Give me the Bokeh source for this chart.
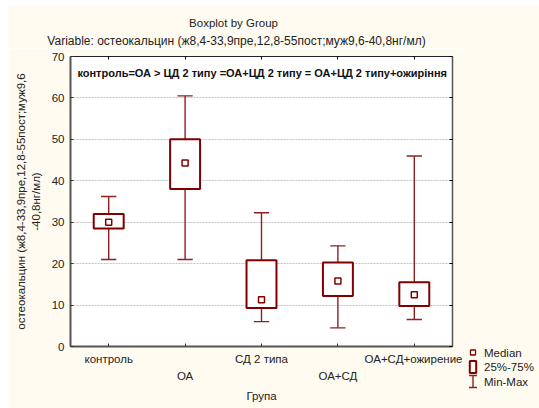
from bokeh.plotting import figure
from bokeh.layouts import column, row
from bokeh.models import Range1d, FixedTicker, LinearAxis, Label, ColumnDataSource
from bokeh.core.properties import value
from bokeh.embed import file_html
from bokeh.resources import INLINE

groups = ["контроль", "ОА", "СД 2 типа", "ОА+СД", "ОА+СД+ожирение"]
medians = [30.0, 44.3, 11.3, 15.8, 12.5]
q1 = [28.5, 38.0, 9.3, 12.2, 9.8]
q3 = [32.0, 50.0, 20.8, 20.3, 15.5]
mins = [21.0, 21.0, 6.0, 4.5, 6.5]
maxs = [36.2, 60.5, 32.3, 24.3, 46.0]
y_ticks = [0, 10, 20, 30, 40, 50, 60, 70]
legend_labels = ["Median", "25%-75%", "Min-Max"]
title_text = "Boxplot by Group"
subtitle_text = "Variable: остеокальцин (ж8,4-33,9пре,12,8-55пост;муж9,6-40,8нг/мл)"
note_text = "контроль=ОА > ЦД 2 типу =ОА+ЦД 2 типу = ОА+ЦД 2 типу+ожиріння"
y_label = "остеокальцин (ж8,4-33,9пре,12,8-55пост;муж9,6\n-40,8нг/мл)"
x_label = "Група"

FONT = "Liberation Sans"
RED = "#800000"
WHISK = "#8f2020"
BG = "#FFFBF0"
TXT = "#222222"

# ---------- title strip ----------
TW, TH = 531, 43
tf = figure(width=TW, height=TH, output_backend="svg", toolbar_location=None,
            x_range=Range1d(0, TW), y_range=Range1d(TH, 0),
            x_axis_type=None, y_axis_type=None, min_border=0, title=None)
tf.frame_align = False
tf.border_fill_color = BG
tf.background_fill_color = BG
tf.outline_line_color = None
tf.grid.grid_line_color = None
tf.text(x=[225], y=[17], text=[title_text], text_font=value(FONT), text_font_size="11.5px",
        text_color=TXT, text_align="center", text_baseline="middle")
tf.text(x=[228], y=[35], text=[subtitle_text], text_font=value(FONT), text_font_size="12px",
        text_color=TXT, text_align="center", text_baseline="middle")

# ---------- main plot ----------
xs = list(range(len(groups)))
p = figure(width=454, height=360, output_backend="svg", toolbar_location=None,
           x_range=Range1d(-0.5, 4.5), y_range=Range1d(0, 70),
           min_border_left=62, min_border_right=10, min_border_top=8, min_border_bottom=62,
           title=None)
p.frame_align = False
p.border_fill_color = BG
p.background_fill_color = "white"
p.outline_line_color = None

p.xaxis.ticker = FixedTicker(ticks=xs)
p.xaxis.major_label_overrides = {i: (g if i % 2 == 0 else "\n" + g) for i, g in enumerate(groups)}
p.xaxis.major_label_text_line_height = 1.45
p.xaxis.axis_label = x_label
p.yaxis.ticker = FixedTicker(ticks=y_ticks)
p.yaxis.axis_label = y_label
for ax in (p.xaxis[0], p.yaxis[0]):
    ax.axis_line_color = "#555555"
    ax.axis_line_width = 2
    ax.major_tick_in = 3
    ax.major_tick_out = 0
    ax.minor_tick_line_color = None
    ax.major_tick_line_color = "#333333"
    ax.major_label_text_font = FONT
    ax.major_label_text_font_size = "11.5px"
    ax.major_label_text_color = TXT
    ax.axis_label_text_font = FONT
    ax.axis_label_text_font_size = "11.5px"
    ax.axis_label_text_font_style = "normal"
    ax.axis_label_text_color = TXT
p.xaxis.major_label_standoff = 6
p.xaxis.axis_label_standoff = 5
p.yaxis.major_label_standoff = 6
p.yaxis.axis_label_standoff = 7

right = LinearAxis(ticker=FixedTicker(ticks=y_ticks),
                   major_label_overrides={t: "" for t in y_ticks},
                   major_label_standoff=0, major_tick_in=3, major_tick_out=0,
                   minor_tick_line_color=None, axis_line_color="#555555", axis_line_width=1.5)
p.add_layout(right, "right")
top = LinearAxis(ticker=FixedTicker(ticks=xs), major_label_overrides={t: "" for t in xs},
                 major_label_standoff=0, major_tick_in=3, major_tick_out=0,
                 minor_tick_line_color=None, axis_line_color="#222222", axis_line_width=1)
p.add_layout(top, "above")

p.xgrid.grid_line_color = None
p.ygrid.ticker = FixedTicker(ticks=y_ticks)
p.ygrid.grid_line_color = "#c4c4c4"
p.ygrid.grid_line_dash = "2 1"

src = ColumnDataSource(dict(x=xs, med=medians, q1=q1, q3=q3, lo=mins, hi=maxs,
                            left=[x - 0.196 for x in xs], right=[x + 0.196 for x in xs],
                            cl=[x - 0.1 for x in xs], cr=[x + 0.1 for x in xs]))
for y0, y1 in (("q3", "hi"), ("q1", "lo")):
    p.segment(x0="x", y0=y0, x1="x", y1=y1, source=src, line_color=WHISK, line_width=1.4)
for yy in ("hi", "lo"):
    p.segment(x0="cl", y0=yy, x1="cr", y1=yy, source=src, line_color=WHISK, line_width=1.4)
p.quad(left="left", right="right", bottom="q1", top="q3", source=src,
       fill_color="white", line_color=RED, line_width=2)
p.scatter(x="x", y="med", source=src, marker="square", size=6, fill_color="white",
          line_color=RED, line_width=1.5)
p.add_layout(Label(x=-0.41, y=66.1, text=note_text, text_font=FONT, text_font_size="11px",
                   text_font_style="bold", text_color="#111111", text_align="left",
                   text_baseline="middle"))

# ---------- legend strip ----------
LW, LH = 77, 360
lf = figure(width=LW, height=LH, output_backend="svg", toolbar_location=None,
            x_range=Range1d(0, LW), y_range=Range1d(LH, 0),
            x_axis_type=None, y_axis_type=None, min_border=0, title=None)
lf.frame_align = False
lf.border_fill_color = BG
lf.background_fill_color = BG
lf.outline_line_color = None
lf.grid.grid_line_color = None
ix = 10.5            # icon centre (px within strip)
rows_y = [304, 318.5, 333]
lf.scatter(x=[ix], y=[rows_y[0]], marker="square", size=5, fill_color="white",
           line_color=RED, line_width=1.3)
lf.quad(left=[ix - 3.2], right=[ix + 3.2], top=[rows_y[1] - 6], bottom=[rows_y[1] + 6],
        fill_color="white", line_color=RED, line_width=2)
lf.segment(x0=[ix, ix - 4, ix - 4], y0=[rows_y[2] - 6, rows_y[2] - 6, rows_y[2] + 6],
           x1=[ix, ix + 4, ix + 4], y1=[rows_y[2] + 6, rows_y[2] - 6, rows_y[2] + 6],
           line_color=WHISK, line_width=1.4)
lf.text(x=[21.5] * 3, y=rows_y, text=legend_labels, text_font=value(FONT),
        text_font_size="11.5px", text_color=TXT, text_align="left", text_baseline="middle")

layout = column(tf, row(p, lf, spacing=0), spacing=0, margin=(5, 0, 0, 8))
open("out.html", "w").write(file_html(layout, INLINE))
